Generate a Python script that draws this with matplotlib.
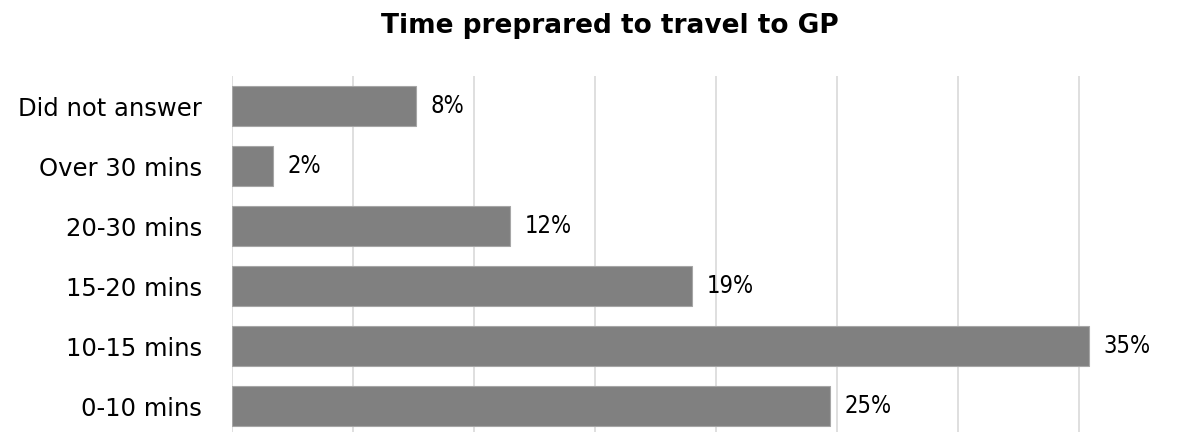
import matplotlib.pyplot as plt

plt.rcParams['font.family'] = ['DejaVu Sans']

# answer groups, listed top to bottom
groups = ['Did not answer', 'Over 30 mins', '20-30 mins', '15-20 mins', '10-15 mins', '0-10 mins']
share = [7.6, 1.7, 11.5, 19.0, 35.4, 24.7]  # percent of respondents

fig = plt.figure(figsize=(11.98, 4.32), dpi=100)
ax = fig.add_axes([232 / 1198, -4 / 432, 968 / 1198, 360 / 432])

pos = range(len(groups))
ax.barh(pos, share, height=0.66, color='#808080', edgecolor='#a6a6a6', linewidth=0.8, zorder=2)
for y, v in zip(pos, share):
    ax.text(v + 0.6, y, f'{v:.0f}%', va='center', ha='left', fontsize=17, fontstretch='condensed')

ax.set_yticks(list(pos))
ax.set_yticklabels(groups, fontsize=17.5)
ax.set_ylim(len(groups) - 0.5, -0.5)
ax.set_xlim(0, 40)
ax.set_xticks(range(0, 41, 5))
ax.tick_params(axis='x', bottom=False, labelbottom=False)
ax.tick_params(axis='y', left=False, pad=18)
ax.grid(axis='x', color='#d9d9d9', linewidth=1.2, zorder=0)
for s in ax.spines.values():
    s.set_visible(False)

fig.text(0.509, 0.94, 'Time preprared to travel to GP', ha='center', va='center',
         fontsize=19, fontweight='bold')

fig.savefig('out.png', dpi=100)
